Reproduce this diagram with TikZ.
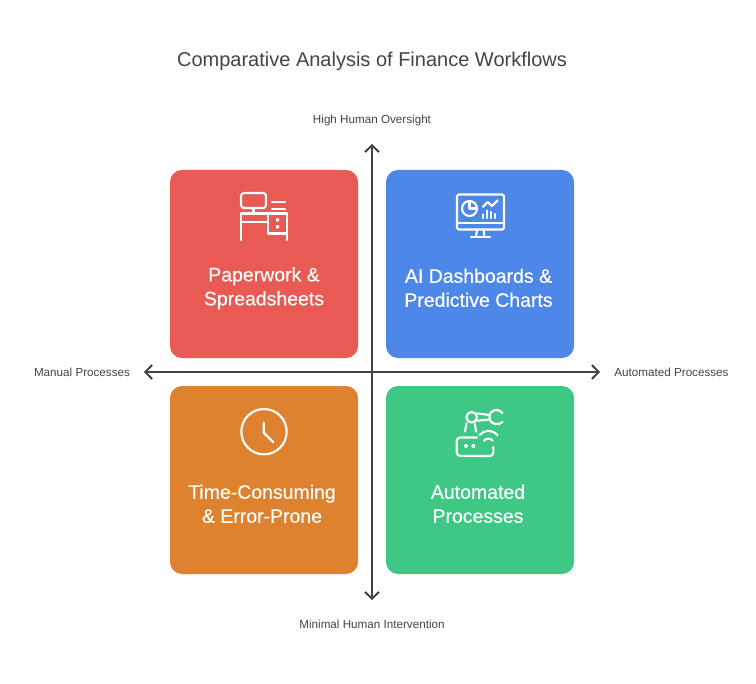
\documentclass[tikz,border=0pt]{standalone}
\usepackage{fontspec}
\setmainfont{Liberation Sans}
\newfontfamily\cardfont[FakeBold=0.35]{Liberation Sans}
\usetikzlibrary{arrows.meta}
\definecolor{cred}{HTML}{E85A53}
\definecolor{cblue}{HTML}{4D87E8}
\definecolor{corange}{HTML}{DF822F}
\definecolor{cgreen}{HTML}{3EC785}
\definecolor{ink}{HTML}{444444}
\tikzset{
 card/.style={draw=none,rounded corners=9pt,minimum width=141pt,minimum height=141pt,inner sep=0pt},
 cardtext/.style={text=white,align=center,font=\cardfont\fontsize{14.6}{18}\selectfont,inner sep=0pt},
 axislabel/.style={text=ink,font=\fontsize{8.75}{11}\selectfont,inner sep=0pt},
 axisline/.style={draw=ink,line width=1.5pt,{Straight Barb[length=5pt,width=10.5pt,line width=1.5pt]}-{Straight Barb[length=5pt,width=10.5pt,line width=1.5pt]}},
 icon/.style={draw=white,line width=1.6pt,line cap=round,line join=round},
}
\begin{document}
\begin{tikzpicture}[x=0.75pt,y=-0.75pt]
\useasboundingbox (0,0) rectangle (756,684);
\node[text=ink,font=\fontsize{15}{18}\selectfont,inner sep=0pt] (title) at (372,61.5) {Comparative Analysis of Finance Workflows};
\node[card,fill=cred] (a) at (264,264) {};
\node[card,fill=cblue] (b) at (480,264) {};
\node[card,fill=corange] (c) at (264,480) {};
\node[card,fill=cgreen] (d) at (480,480) {};
\node[cardtext] (ta) at (264,288.3) {Paperwork \&\\Spreadsheets};
\node[cardtext] (tb) at (478.5,287.8) {AI Dashboards \&\\Predictive Charts};
\node[cardtext] (tc) at (262,503.8) {Time-Consuming\\\& Error-Prone};
\node[cardtext] (td) at (478,503.8) {Automated\\Processes};
\coordinate (top) at (372,144);
\coordinate (bot) at (372,600);
\coordinate (lef) at (144,372);
\coordinate (rig) at (600,372);
\draw[axisline] (top) -- (bot);
\draw[axisline] (lef) -- (rig);
\node[axislabel] (ltop) at (372,120) {High Human Oversight};
\node[axislabel] (lbot) at (372,624) {Minimal Human Intervention};
\node[axislabel] (llef) at (82,372) {Manual Processes};
\node[axislabel] (lrig) at (671.5,372) {Automated Processes};
% desk
\draw[icon,rounded corners=2.2pt] (241,193) rectangle (266,208);
\draw[icon] (253.5,208) -- (253.5,213.5);
\draw[icon] (241,240) -- (241,213.5) -- (287,213.5) -- (287,240);
\draw[icon] (241,222) -- (268,222);
\draw[icon] (268,213.5) -- (268,233.5) -- (287,233.5);
\draw[icon] (272,202) -- (285,202) (272,209) -- (285,209);
\fill[white] (276,218.5) rectangle (279,221.5) (276,225.5) rectangle (279,228.5);
% monitor
\draw[icon,rounded corners=1.2pt] (457,194.5) rectangle (504,229.5);
\draw[icon] (457,223) -- (504,223);
\draw[icon] (477,229.5) -- (476,237) (483.5,229.5) -- (484.5,237);
\draw[icon] (471,237) -- (490,237);
\draw[icon] (469.5,208.5) circle (5.6pt);
\draw[icon] (469.5,201) -- (469.5,208.5) -- (477,208.5);
\draw[icon] (483,207) -- (487.5,202) -- (492,206) -- (497.5,200.5);
\draw[icon] (483,218) -- (483,214.5) (487,218) -- (487,210.5) (491,218) -- (491,212) (495,218) -- (495,214);
% clock
\draw[icon] (264,431.7) circle (17pt);
\draw[icon] (263.7,422.7) -- (263.7,432.7) -- (273.3,442.3);
% robot
\draw[icon] (477,437.5) -- (460,437.5) arc[start angle=90,end angle=180,radius=2.5pt] -- (456.7,452.5) arc[start angle=180,end angle=270,radius=2.5pt] -- (490,456) arc[start angle=270,end angle=360,radius=2.5pt] -- (493.3,447);
\fill[white] (466,446) circle (1.5pt) (473.3,446) circle (1.5pt);
\draw[icon] (479.5,435) .. controls (484,429.5) and (493,429.5) .. (497.5,435);
\draw[icon] (484,440.7) .. controls (486,438) and (491,438) .. (492.7,440.7);
\draw[icon] (471.7,417.3) circle (4pt);
\draw[icon] (466.5,423.5) -- (465,431.5) (475,424) -- (476,431.5);
\draw[icon] (477.5,413.5) -- (489.5,415) (477.5,420.7) -- (489.5,419.5);
\draw[icon] (502.5,413) .. controls (499,408) and (489.5,409) .. (489.5,417) .. controls (489.5,425) and (499,426) .. (502.5,422);
\end{tikzpicture}
\end{document}
